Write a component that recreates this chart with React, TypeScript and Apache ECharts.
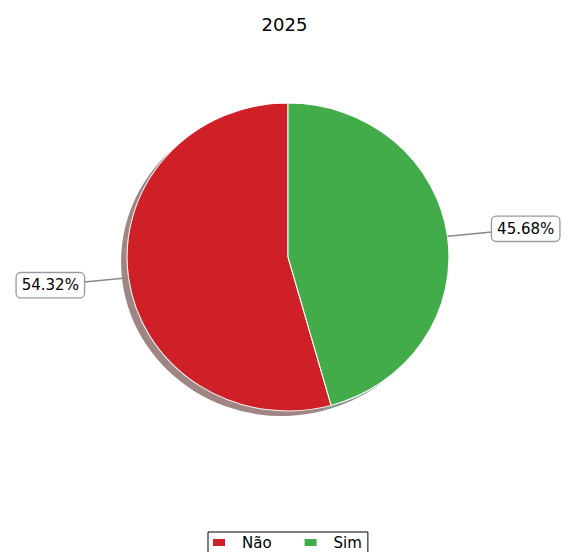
import React, { useEffect, useRef } from "react";
import * as echarts from "echarts";

const titleText = "2025";
const categories = ["Não", "Sim"];
const values = [54.32, 45.68];

const COLORS = ["#CF2028", "#42AC4A"];
const SHADOWS = ["#a08585", "#8a998a"];
const FONT = "DejaVu Sans";
const CX = 288;
const CY = 257;
const RX = 161;
const RY = 154;

function sliceInfo(i: number) {
  const sum = values.reduce((a, b) => a + b, 0);
  let c0 = 0;
  for (let k = 0; k < i; k++) c0 += values[k] / sum;
  const frac = values[i] / sum;
  const c1 = c0 + frac;
  const a0 = -(Math.PI / 2 + 2 * Math.PI * c1);
  const a1 = -(Math.PI / 2 + 2 * Math.PI * c0);
  const tm = Math.PI / 2 + Math.PI * (c0 + c1);
  return { frac, a0, a1, tm };
}

function renderSlice(i: number) {
  return () => {
    const { frac, a0, a1, tm } = sliceInfo(i);
    const ex = CX + RX * Math.cos(tm);
    const ey = CY - RY * Math.sin(tm);
    const lx = CX + 1.49 * RX * Math.cos(tm);
    const ly = CY - 1.35 * RY * Math.sin(tm);
    return {
      type: "group",
      children: [
        {
          type: "sector",
          x: CX,
          y: CY,
          scaleX: RX / RY,
          shape: { cx: 0, cy: 0, r: RY, r0: 0, startAngle: a0, endAngle: a1, clockwise: true },
          style: { fill: COLORS[i], stroke: "#ffffff", lineWidth: 1, strokeNoScale: true },
          z2: 10,
        },
        {
          type: "line",
          shape: { x1: ex, y1: ey, x2: lx, y2: ly },
          style: { stroke: "#888888", lineWidth: 1.5 },
          z2: 20,
        },
        {
          type: "text",
          x: lx,
          y: ly,
          style: {
            text: (frac * 100).toFixed(2) + "%",
            fontSize: 15,
            fontFamily: FONT,
            fill: "#000",
            align: "center",
            verticalAlign: "middle",
            backgroundColor: "#fff",
            borderColor: "#9a9a9a",
            borderWidth: 1.3,
            borderRadius: 4,
            padding: [5, 5, 4, 5],
          },
          z2: 30,
        },
      ],
    };
  };
}

function renderShadow(params: any) {
  const i = params.dataIndex;
  const { a0, a1 } = sliceInfo(i);
  return {
    type: "sector",
    x: CX - 6,
    y: CY + 5,
    scaleX: RX / RY,
    shape: { cx: 0, cy: 0, r: RY, r0: 0, startAngle: a0, endAngle: a1, clockwise: true },
    style: { fill: SHADOWS[i] },
    z2: 0,
  };
}

export default function App() {
  const ref = useRef<HTMLDivElement>(null);
  useEffect(() => {
    if (!ref.current) return;
    const chart = echarts.init(ref.current, null, { renderer: "svg" });
    const series: any[] = [
      {
        type: "custom",
        name: "shadow",
        coordinateSystem: "none",
        silent: true,
        data: values,
        renderItem: renderShadow,
      },
    ];
    categories.forEach((c, i) => {
      series.push({
        type: "custom",
        name: c,
        coordinateSystem: "none",
        itemStyle: { color: COLORS[i] },
        data: [values[i]],
        renderItem: renderSlice(i),
      });
    });
    chart.setOption({
      animation: false,
      backgroundColor: "#ffffff",
      title: {
        text: titleText,
        left: "center",
        top: 10,
        textStyle: { fontFamily: FONT, fontSize: 18, fontWeight: "normal", color: "#000" },
      },
      legend: {
        data: categories,
        left: 208,
        top: 532,
        padding: [2, 6, 2, 5],
        borderColor: "#000",
        borderWidth: 1,
        borderRadius: 0,
        backgroundColor: "#fff",
        icon: "rect",
        itemWidth: 12,
        itemHeight: 7,
        itemGap: 33,
        selectedMode: false,
        textStyle: {
          fontFamily: FONT,
          fontSize: 15,
          color: "#000",
          lineHeight: 17,
          padding: [0, 0, 0, 12],
        },
      },
      series,
    });
    return () => chart.dispose();
  }, []);
  return (
    <div
      ref={ref}
      style={{ position: "fixed", left: 0, top: 0, width: 569, height: 552 }}
    />
  );
}
